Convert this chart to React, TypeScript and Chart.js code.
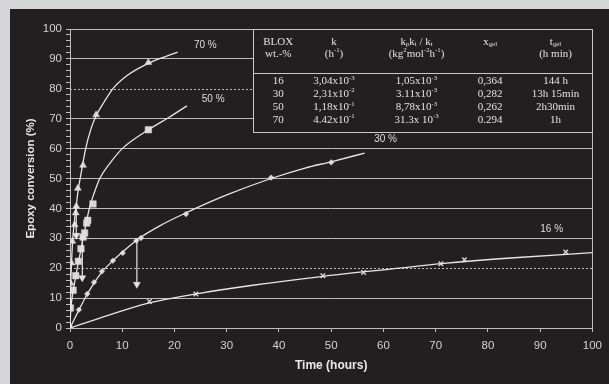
import React, { useEffect, useRef } from 'react';
import { Chart, registerables } from 'chart.js';

Chart.register(...registerables);

// ---------- data ----------
const xTicks = [0, 10, 20, 30, 40, 50, 60, 70, 80, 90, 100];
const yLabelStep = 10;

const curve70: [number, number][] = [
  [0, 0], [0.15, 15], [0.3, 22], [0.5, 29], [0.8, 35], [1.2, 41], [1.6, 46.5], [2.0, 50.5],
  [3.0, 60], [4.0, 66.5], [5.0, 71], [6.5, 75.5], [8.2, 80], [11, 84.5], [15, 88.5], [17, 90], [20.6, 92.3],
];
const curve50: [number, number][] = [
  [0, 0], [0.15, 6], [0.6, 12.3], [1.1, 17.3], [1.6, 22], [2.1, 26.3], [2.5, 30], [3.1, 35],
  [3.7, 40], [4.6, 45], [5.7, 50], [7.6, 55], [10, 60], [15, 66.3], [19, 70.5], [22.4, 74.3],
];
const curve30: [number, number][] = [
  [0, 0], [1.7, 6], [3.3, 11.3], [4.6, 15], [6.1, 18.7], [8.2, 22.5], [10.1, 25.5], [13, 29.7],
  [17, 34], [22.2, 38.5], [30, 44.5], [38.5, 50], [45, 53.5], [50, 55.6], [56.4, 58.5],
];
const curve16: [number, number][] = [
  [0, 0], [5.7, 3.3], [15, 8.3], [24.8, 11.6], [35, 14.3], [48.5, 17.3], [63, 20], [71, 21.5], [85, 23.5], [100, 25.2],
];

const points70: [number, number][] = [
  [0.13, 15], [0.27, 21.7], [0.45, 29], [0.9, 34.5], [1.1, 38.5], [1.2, 40.7], [1.5, 46.7], [2.5, 54.4], [5, 71.3], [15, 88.8],
];
const points50: [number, number][] = [
  [0.07, 6.7], [0.6, 12.6], [1.1, 17.5], [1.6, 22.3], [2.1, 26.5], [2.5, 30.4], [2.8, 31.8], [3.2, 35.1], [3.4, 36], [4.4, 41.5], [15, 66.3],
];
const points30: [number, number][] = [
  [0, 0], [1.7, 6.1], [3.3, 11.4], [4.6, 15.3], [6.1, 18.9], [8.2, 22.5], [10.1, 25.1], [12.7, 29.2], [13.6, 30.1], [22.2, 38.1], [38.5, 50.3], [50, 55.4],
];
const points16: [number, number][] = [
  [0, 0], [15.2, 8.9], [24.1, 11.4], [48.4, 17.5], [56.2, 18.6], [71, 21.5], [75.5, 22.8], [94.9, 25.4],
];

// gel-point arrows
const arrowX = [1.2, 2.35, 12.8];
const arrowTop = [40.5, 30.5, 29.5];
const arrowBottom = [31, 16.8, 14.6];

// series labels
const seriesLabels = ['70 %', '50 %', '30 %', '16 %'];
const seriesLabelX = [25.9, 27.4, 60.4, 92.2];
const seriesLabelY = [94.5, 76.6, 63.2, 33];

// dotted reference lines
const dottedY = [20, 80];

// table
const tableHeader1 = ['BLOX', 'k', 'k_{p}k_{i} / k_{t}', 'x_{gel}', 't_{gel}'];
const tableHeader2 = ['wt.-%', '(h^{-1})', '(kg^{2}mol^{-2}h^{-1})', '', '(h min)'];
const tableRows = [
  ['16', '3,04x10^{-3}', '1,05x10^{-3}', '0,364', '144 h'],
  ['30', '2,31x10^{-2}', '3.11x10^{-3}', '0,282', '13h 15min'],
  ['50', '1,18x10^{-1}', '8,78x10^{-3}', '0,262', '2h30min'],
  ['70', '4.42x10^{-1}', '31.3x 10^{-3}', '0.294', '1h'],
];

// ---------- style ----------
const LINE = '#e6e6e6';
const GRID = '#bdbdbd';
const TICK_TEXT = '#d2d2d2';
const TITLE_TEXT = '#e8e8e8';
const MARK = '#d6d6d6';
const PANEL = '#231f20';

const tableGeom = { x0: 35, x1: 100, y0: 65.6, y1: 100 };
const tableCols = [0.073, 0.2375, 0.481, 0.698, 0.891];
const tableHeaderRows = [0.121, 0.238];
const tableSep = 0.427;
const tableDataRows = [0.505, 0.626, 0.757, 0.879];

type Seg = { t: string; s?: 'sup' | 'sub' };
function parseRich(s: string): Seg[] {
  const segs: Seg[] = [];
  const re = /([_^])\{([^}]*)\}/g;
  let last = 0;
  let m: RegExpExecArray | null;
  while ((m = re.exec(s))) {
    if (m.index > last) segs.push({ t: s.slice(last, m.index) });
    segs.push({ t: m[2], s: m[1] === '^' ? 'sup' : 'sub' });
    last = re.lastIndex;
  }
  if (last < s.length) segs.push({ t: s.slice(last) });
  return segs;
}

function drawRich(ctx: CanvasRenderingContext2D, text: string, cx: number, cy: number, size: number) {
  const segs = parseRich(text);
  const small = size * 0.62;
  const fam = '"Liberation Serif", "DejaVu Serif", serif';
  let w = 0;
  const widths = segs.map((sg) => {
    ctx.font = `${sg.s ? small : size}px ${fam}`;
    const ww = ctx.measureText(sg.t).width;
    w += ww;
    return ww;
  });
  let x = cx - w / 2;
  ctx.textAlign = 'left';
  ctx.textBaseline = 'middle';
  segs.forEach((sg, i) => {
    ctx.font = `${sg.s ? small : size}px ${fam}`;
    const y = sg.s === 'sup' ? cy - size * 0.33 : sg.s === 'sub' ? cy + size * 0.22 : cy;
    ctx.fillText(sg.t, x, y);
    x += widths[i];
  });
}

const toXY = (arr: [number, number][]) => arr.map(([x, y]) => ({ x, y }));

const decorPlugin = {
  id: 'decor',
  beforeDatasetsDraw(chart: any) {
    const { ctx, scales } = chart;
    const xs = scales.x;
    const ys = scales.y;
    ctx.save();
    ctx.strokeStyle = GRID;
    ctx.lineWidth = 1;
    // dotted lines
    ctx.setLineDash([2, 2]);
    dottedY.forEach((v) => {
      const y = Math.round(ys.getPixelForValue(v)) + 0.5;
      ctx.beginPath();
      ctx.moveTo(xs.getPixelForValue(0), y);
      ctx.lineTo(xs.getPixelForValue(100), y);
      ctx.stroke();
    });
    ctx.setLineDash([]);
    // frame top and right
    const yt = Math.round(ys.getPixelForValue(100)) + 0.5;
    const xr = Math.round(xs.getPixelForValue(100)) + 0.5;
    ctx.beginPath();
    ctx.moveTo(xs.getPixelForValue(0), yt);
    ctx.lineTo(xr, yt);
    ctx.lineTo(xr, ys.getPixelForValue(0));
    ctx.stroke();
    ctx.restore();
  },
  afterDatasetsDraw(chart: any) {
    const { ctx, scales } = chart;
    const xs = scales.x;
    const ys = scales.y;
    ctx.save();
    // table box
    const l = Math.round(xs.getPixelForValue(tableGeom.x0)) + 0.5;
    const r = Math.round(xs.getPixelForValue(tableGeom.x1)) + 0.5;
    const t = Math.round(ys.getPixelForValue(tableGeom.y1)) + 0.5;
    const b = Math.round(ys.getPixelForValue(tableGeom.y0)) + 0.5;
    const w = r - l;
    const h = b - t;
    ctx.fillStyle = PANEL;
    ctx.fillRect(l, t, w, h);
    ctx.strokeStyle = '#c8c8c8';
    ctx.lineWidth = 1;
    ctx.strokeRect(l, t, w, h);
    const sy = Math.round(t + h * tableSep) + 0.5;
    ctx.beginPath();
    ctx.moveTo(l, sy);
    ctx.lineTo(r, sy);
    ctx.stroke();
    ctx.fillStyle = '#e2e2e2';
    tableCols.forEach((cf, ci) => {
      const cx = l + w * cf;
      drawRich(ctx, tableHeader1[ci], cx, t + h * tableHeaderRows[0], 11);
      if (tableHeader2[ci]) drawRich(ctx, tableHeader2[ci], cx, t + h * tableHeaderRows[1], 11);
      tableRows.forEach((row, ri) => {
        drawRich(ctx, row[ci], cx, t + h * tableDataRows[ri], 11);
      });
    });
    // series labels
    ctx.fillStyle = '#dedede';
    ctx.font = '10px "Liberation Sans", Arial, sans-serif';
    ctx.textAlign = 'center';
    ctx.textBaseline = 'middle';
    seriesLabels.forEach((s, i) => {
      ctx.fillText(s, xs.getPixelForValue(seriesLabelX[i]), ys.getPixelForValue(seriesLabelY[i]));
    });
    ctx.restore();
  },
};

export default function App() {
  const ref = useRef<HTMLCanvasElement | null>(null);

  useEffect(() => {
    if (!ref.current) return;
    const curveDs = (data: [number, number][]) => ({
      type: 'line' as const,
      data: toXY(data),
      borderColor: LINE,
      borderWidth: 1.3,
      pointRadius: 0,
      cubicInterpolationMode: 'monotone' as const,
      fill: false,
    });
    const pointDs = (data: [number, number][], style: string, radius: number, filled = true) => ({
      type: 'line' as const,
      data: toXY(data),
      showLine: false,
      pointStyle: style,
      pointRadius: radius,
      pointBackgroundColor: filled ? MARK : 'transparent',
      pointBorderColor: MARK,
      pointBorderWidth: filled ? 0.5 : 1.4,
    });
    const arrowDs = arrowX.map((ax, i) => ({
      type: 'line' as const,
      data: [
        { x: ax, y: arrowTop[i] },
        { x: ax, y: arrowBottom[i] },
      ],
      borderColor: LINE,
      borderWidth: 1.2,
      pointStyle: 'triangle',
      pointRadius: [0, 4],
      pointRotation: 180,
      pointBackgroundColor: LINE,
      pointBorderColor: LINE,
      pointBorderWidth: 0.5,
    }));

    const chart = new Chart(ref.current, {
      type: 'line',
      data: {
        datasets: [
          curveDs(curve70),
          curveDs(curve50),
          curveDs(curve30),
          curveDs(curve16),
          ...arrowDs,
          pointDs(points70, 'triangle', 4),
          pointDs(points50, 'rect', 4.6),
          pointDs(points30, 'rectRot', 2.8),
          pointDs(points16, 'crossRot', 3.2, false),
        ] as any,
      },
      options: {
        animation: false,
        responsive: false,
        events: [],
        layout: { padding: { left: 0, right: 15, top: 20, bottom: 0 } },
        plugins: { legend: { display: false }, tooltip: { enabled: false } },
        scales: {
          x: {
            type: 'linear',
            min: 0,
            max: 100,
            afterBuildTicks: (s: any) => {
              s.ticks = xTicks.map((v) => ({ value: v }));
            },
            ticks: {
              color: TICK_TEXT,
              font: { family: '"Liberation Sans", Arial, sans-serif', size: 11.5 },
              padding: 7,
              maxRotation: 0,
              autoSkip: false,
            },
            grid: { drawOnChartArea: false, color: GRID, tickLength: 4, tickColor: GRID },
            border: { color: GRID, width: 1 },
            title: {
              display: true,
              text: 'Time (hours)',
              color: TITLE_TEXT,
              font: { family: '"Liberation Sans", Arial, sans-serif', size: 12, weight: 'bold' },
              padding: { top: 0, bottom: 11 },
            },
            afterFit: (s: any) => {
              s.height = 56;
            },
          },
          y: {
            type: 'linear',
            min: 0,
            max: 100,
            ticks: {
              stepSize: 2,
              autoSkip: false,
              color: TICK_TEXT,
              font: { family: '"Liberation Sans", Arial, sans-serif', size: 11.5 },
              padding: 4,
              callback: (v: any) => (Number(v) % yLabelStep === 0 ? String(v) : ''),
            },
            grid: {
              color: (c: any) => {
                const v = c.tick ? c.tick.value : -1;
                return v % 10 === 0 && v !== 0 && v !== 100 && !dottedY.includes(v) ? GRID : 'rgba(0,0,0,0)';
              },
              lineWidth: 1,
              tickLength: 4,
              tickColor: GRID,
            },
            border: { color: GRID, width: 1 },
            title: {
              display: true,
              text: 'Epoxy conversion (%)',
              color: TITLE_TEXT,
              font: { family: '"Liberation Sans", Arial, sans-serif', size: 11.5, weight: 'bold' },
              padding: { top: 14, bottom: 0 },
            },
            afterFit: (s: any) => {
              s.width = 60;
            },
          },
        },
      } as any,
      plugins: [decorPlugin],
    });
    return () => chart.destroy();
  }, []);

  return (
    <div style={{ position: 'fixed', left: 0, top: 0, width: 609, height: 384, background: '#d5d6d8', overflow: 'hidden' }}>
      <div style={{ position: 'absolute', left: 10, top: 9, width: 599, height: 375, background: PANEL }}>
        <canvas ref={ref} width={599} height={375} style={{ display: 'block' }} />
      </div>
    </div>
  );
}
